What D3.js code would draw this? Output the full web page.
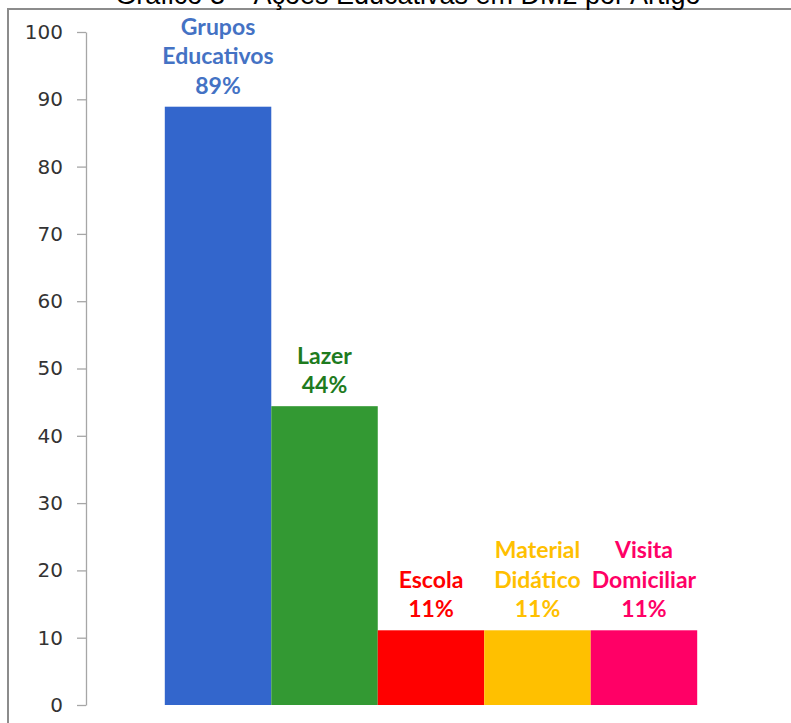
<!DOCTYPE html>
<html>
<head>
<meta charset="utf-8">
<script src="https://cdn.jsdelivr.net/npm/d3@7"></script>
<style>
  body { margin: 0; background: #fff; }
  svg { display: block; }
</style>
</head>
<body>
<svg id="chart"></svg>
<script>
const WIDTH = 791;
const HEIGHT = 723;

const TITLE = "Gráfico 3 – Ações Educativas em DM2 por Artigo";

// categories, split in lines for the labels
const CATEGORIES = ["Grupos Educativos", "Lazer", "Escola", "Material Didático", "Visita Domiciliar"];
const LABEL_LINES = [["Grupos", "Educativos"], ["Lazer"], ["Escola"], ["Material", "Didático"], ["Visita", "Domiciliar"]];
const VALUES = [88.9, 44.4, 11.1, 11.1, 11.1];
const PERCENT_LABELS = ["89%", "44%", "11%", "11%", "11%"];
const Y_TICKS = [0, 10, 20, 30, 40, 50, 60, 70, 80, 90, 100];

const BAR_COLORS = ["#3366cc", "#339933", "#ff0000", "#ffc000", "#ff0066"];
const TEXT_COLORS = ["#4472c4", "#1e7b1e", "#ff0000", "#ffc000", "#ff0066"];

const svg = d3.select('#chart')
              .attr('width', WIDTH)
              .attr('height', HEIGHT);

// frame
svg.append('path')
   .attr('d', `M${WIDTH},9 H8 V${HEIGHT}`)
   .attr('fill', 'none')
   .attr('stroke', '#8c8c8c')
   .attr('stroke-width', 2);

// title (cut by the top edge like the original)
svg.append('text')
   .attr('x', 408)
   .attr('y', 4)
   .attr('text-anchor', 'middle')
   .style('font-family', '"Liberation Sans", Arial, sans-serif')
   .style('font-size', '27px')
   .style('fill', '#000')
   .text(TITLE);

const y = d3.scaleLinear()
            .domain([0, 100])
            .range([705, 32]);

const x = d3.scaleBand()
            .domain(CATEGORIES)
            .range([86, 776])
            .paddingInner(0)
            .paddingOuter(0.74);

const yAxis = svg.append('g')
                 .attr('transform', 'translate(86,0)')
                 .call(d3.axisLeft(y).tickValues(Y_TICKS).tickSize(9).tickSizeOuter(0).tickPadding(14));

yAxis.select('.domain').attr('stroke', '#a6a6a6').attr('stroke-width', 1.3);
yAxis.selectAll('.tick line').attr('stroke', '#a6a6a6').attr('stroke-width', 1.3);
yAxis.selectAll('.tick text')
     .style('font-family', '"DejaVu Sans", sans-serif')
     .style('font-size', '20px')
     .attr('fill', '#333');

const data = CATEGORIES.map((c, i) => ({
  name: c,
  value: VALUES[i],
  lines: LABEL_LINES[i].concat([PERCENT_LABELS[i]]),
  color: BAR_COLORS[i],
  textColor: TEXT_COLORS[i]
}));

svg.append('g').selectAll('rect')
   .data(data)
   .enter().append('rect')
   .attr('x', d => x(d.name))
   .attr('width', x.bandwidth())
   .attr('y', d => y(d.value))
   .attr('height', d => y(0) - y(d.value))
   .attr('fill', d => d.color);

const LINE_H = 29.5;

const labels = svg.append('g').selectAll('text')
   .data(data)
   .enter().append('text')
   .attr('text-anchor', 'middle')
   .style('font-family', 'Lato, "Open Sans", sans-serif')
   .style('font-weight', 'bold')
   .style('font-size', '23px')
   .attr('fill', d => d.textColor);

labels.each(function(d) {
  const n = d.lines.length;
  const cx = x(d.name) + x.bandwidth() / 2;
  d3.select(this).selectAll('tspan')
    .data(d.lines)
    .enter().append('tspan')
    .attr('x', cx)
    .attr('y', (t, j) => y(d.value) - 13 - (n - 1 - j) * LINE_H)
    .text(t => t);
});
</script>
</body>
</html>
